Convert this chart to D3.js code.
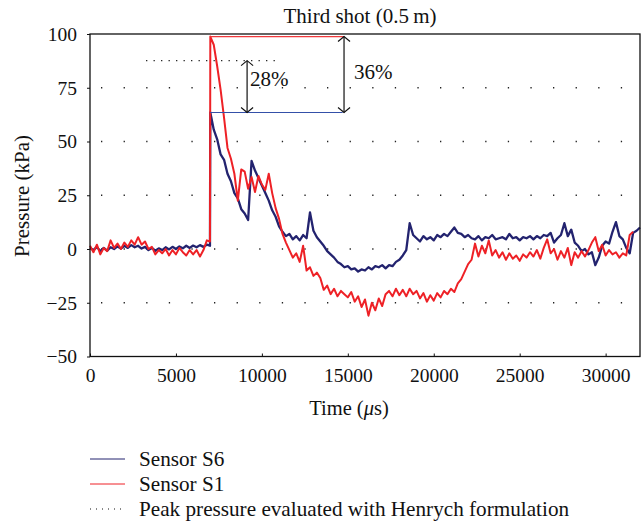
<!DOCTYPE html>
<html>
<head>
<meta charset="utf-8">
<script src="https://cdn.jsdelivr.net/npm/d3@7"></script>
<style>
  body { margin: 0; background: #fff; }
  text { font-family: "Liberation Serif", "Times New Roman", serif; fill: #111; }
</style>
</head>
<body>
<svg id="chart" width="644" height="523"></svg>
<script>
// sample times (µs), shared by both sensors
const timeUs = [
  0, 200, 400, 600, 800, 1000, 1200, 1400, 1600, 1800,
  2000, 2200, 2400, 2600, 2800, 3000, 3200, 3400, 3600, 3800,
  4000, 4200, 4400, 4600, 4800, 5000, 5200, 5400, 5600, 5800,
  6000, 6200, 6400, 6600, 6800, 6980, 7000, 7200, 7400, 7600, 7800,
  8000, 8200, 8400, 8600, 8800, 9000, 9200, 9400, 9600, 9800,
  10000, 10200, 10400, 10600, 10800, 11000, 11200, 11400, 11600, 11800,
  12000, 12200, 12400, 12600, 12800, 13000, 13200, 13400, 13600, 13800,
  14000, 14200, 14400, 14600, 14800, 15000, 15200, 15400, 15600, 15800,
  16000, 16200, 16400, 16600, 16800, 17000, 17200, 17400, 17600, 17800,
  18000, 18200, 18400, 18600, 18800, 19000, 19200, 19400, 19600, 19800,
  20000, 20200, 20400, 20600, 20800, 21000, 21200, 21400, 21600, 21800,
  22000, 22200, 22400, 22600, 22800, 23000, 23200, 23400, 23600, 23800,
  24000, 24200, 24400, 24600, 24800, 25000, 25200, 25400, 25600, 25800,
  26000, 26200, 26400, 26600, 26800, 27000, 27200, 27400, 27600, 27800,
  28000, 28200, 28400, 28600, 28800, 29000, 29200, 29400, 29600, 29800,
  30000, 30200, 30400, 30600, 30800, 31000, 31200, 31400, 31600, 31800,
  32000
];

// Sensor S6 pressure (kPa)
const sensorS6 = [
  0.5, -0.5, 1.0, -1.0, 0.5, -0.8, 0.8, 0.0, 1.2, 0.2,
  1.5, 0.5, 1.8, 0.8, 1.5, 0.2, 1.0, -0.5, 0.5, -0.8,
  0.3, -0.5, 0.8, -0.2, 1.0, 0.0, 1.2, 0.3, 1.5, 0.5,
  1.6, 0.8, 1.8, 1.0, 2.0, 1.5, 63.5, 55.5, 51.0, 44.0, 41.5,
  35.0, 31.5, 26.0, 23.5, 18.5, 16.5, 13.5, 41.0, 36.5, 33.0,
  29.5, 26.0, 22.5, 18.0, 15.0, 10.5, 8.0, 6.0, 7.0, 4.5,
  6.0, 4.0, 6.5, 5.0, 17.0, 8.5, 5.5, 3.5, 1.5, -1.0,
  -2.5, -4.0, -6.0, -7.0, -8.5, -8.0, -9.5, -9.0, -10.5, -9.5,
  -10.0, -8.5, -9.5, -8.0, -8.5, -7.5, -9.0, -7.5, -8.0, -6.0,
  -5.0, -3.0, -0.5, 12.0, 6.5, 5.0, 3.5, 6.0, 4.5, 5.5,
  4.0, 6.5, 5.5, 7.0, 6.0, 8.0, 10.0, 7.5, 7.0, 5.5,
  6.5, 5.0, 4.5, 6.0, 4.0, 5.5, 5.0, 6.5, 4.5, 5.0,
  5.5, 4.5, 7.0, 5.0, 5.5, 4.0, 5.5, 5.0, 6.0, 4.5,
  6.0, 5.0, 6.5, 6.0, 7.5, 3.0, 5.0, 6.5, 12.0, 6.0,
  9.0, 3.0, 1.5, -1.0, 0.0, -2.5, -1.5, -7.5, -4.0, 1.5,
  3.5, 2.5, 8.0, 12.5, 6.0, 4.5, 0.5, -2.0, 7.5, 8.5,
  10.0
];

// Sensor S1 pressure (kPa), no samples after 31600 µs
const sensorS1 = [
  1.5, -1.5, 2.0, -2.5, 0.5, -1.0, 4.0, 0.5, 2.5, 0.0,
  3.0, 1.0, 4.0, 2.0, 5.5, 2.0, 3.5, 0.0, 1.0, -2.5,
  -0.5, -2.0, 0.0, -3.0, -0.5, -2.5, 0.5, -1.5, -3.0, -0.5,
  -2.5, -0.5, -3.5, -0.5, 4.0, 3.5, 98.8, 95.0, 85.0, 74.0, 61.0,
  47.0, 42.0, 35.0, 22.5, 37.0, 36.0, 28.0, 33.5, 26.5, 34.0,
  30.0, 27.5, 35.0, 26.0, 19.0, 14.0, 7.0, 3.0, -0.5, -4.0,
  -2.0, -6.0, 1.5, -10.0, -8.5, -12.5, -11.0, -13.5, -19.0, -17.0,
  -21.0, -18.5, -22.0, -19.5, -21.0, -22.5, -20.0, -24.5, -22.0, -27.0,
  -23.5, -31.0, -25.0, -28.5, -23.0, -26.5, -21.0, -19.5, -22.0, -18.5,
  -21.5, -19.0, -22.0, -18.5, -21.0, -19.5, -23.0, -20.5, -24.5, -21.5,
  -24.0, -20.5, -22.5, -19.5, -21.0, -18.5, -20.0, -16.0, -14.0, -10.5,
  -7.0, -5.0, 2.5, -3.5, 1.5, -2.0, 4.0, -3.0, -0.5, -4.0,
  -1.5, -5.0, -2.0, -4.5, -3.0, -5.5, -2.5, -4.0, -1.5, -3.5,
  -0.5, -4.5, 0.5, 4.5, -2.0, 0.0, -5.0, -1.0, -4.0, 0.5,
  -7.5, -1.5, -4.0, -1.0, -3.5, -0.5, 3.0, 5.5, -1.0, 2.0,
  -3.0, -0.5, -2.5, -1.5, -4.0, -2.0, -3.0, 6.5, 8.0, null,
  null
];

const yTicks = [-50, -25, 0, 25, 50, 75, 100];
const xTicks = [0, 5000, 10000, 15000, 20000, 25000, 30000];
const gridValues = [-25, 0, 25, 50, 75];

// peak annotations: [start time, end time, kPa]
const peakS1 = [7000, 14780, 98.8];
const peakS6 = [7000, 14700, 63.5];
const henrychPeak = [3260, 11050, 87.6];
// arrows: [time, from kPa, to kPa, label]
const arrows = [
  [9140, 87.6, 63.5, "28%"],
  [14780, 98.8, 63.5, "36%"]
];

const legendItems = [
  { label: "Sensor S6", color: "#23236f", dash: null },
  { label: "Sensor S1", color: "#ee2126", dash: null },
  { label: "Peak pressure evaluated with Henrych formulation", color: "#111", dash: "1,5" }
];

const svg = d3.select("#chart");

const x = d3.scaleLinear().domain([0, 32000]).range([90, 640]);
const y = d3.scaleLinear().domain([-50, 100]).range([356.5, 34]);

// dotted grid
svg.append("g")
  .selectAll("line")
  .data(gridValues)
  .enter().append("line")
  .attr("x1", x(0) + 11)
  .attr("x2", x(32000) - 4)
  .attr("y1", d => y(d))
  .attr("y2", d => y(d))
  .attr("stroke", "#222")
  .attr("stroke-width", 1.3)
  .attr("stroke-dasharray", "1.3,21.3");

// henrych dotted line
svg.append("line")
  .attr("x1", x(henrychPeak[0]))
  .attr("x2", x(henrychPeak[1]))
  .attr("y1", y(henrychPeak[2]))
  .attr("y2", y(henrychPeak[2]))
  .attr("stroke", "#222")
  .attr("stroke-width", 1.3)
  .attr("stroke-dasharray", "1.3,6.2");

// series
const line = d3.line()
  .defined(d => d[1] !== null)
  .x(d => x(d[0]))
  .y(d => y(d[1]));

svg.append("path")
  .datum(timeUs.map((t, i) => [t, sensorS6[i]]))
  .attr("fill", "none")
  .attr("stroke", "#23236f")
  .attr("stroke-width", 2.3)
  .attr("stroke-linejoin", "round")
  .attr("d", line);

svg.append("path")
  .datum(timeUs.map((t, i) => [t, sensorS1[i]]))
  .attr("fill", "none")
  .attr("stroke", "#ee2126")
  .attr("stroke-width", 2)
  .attr("stroke-linejoin", "round")
  .attr("d", line);

// peak level lines
svg.append("line")
  .attr("x1", x(peakS1[0])).attr("x2", x(peakS1[1]))
  .attr("y1", y(peakS1[2])).attr("y2", y(peakS1[2]))
  .attr("stroke", "#f0393c").attr("stroke-width", 1.2);
svg.append("line")
  .attr("x1", x(peakS6[0])).attr("x2", x(peakS6[1]))
  .attr("y1", y(peakS6[2])).attr("y2", y(peakS6[2]))
  .attr("stroke", "#3450a8").attr("stroke-width", 1.2);

// double arrows
arrows.forEach(a => {
  const ax = x(a[0]), y1 = y(a[1]), y2 = y(a[2]);
  const g = svg.append("g").attr("stroke", "#111").attr("fill", "none").attr("stroke-width", 1.2);
  g.append("line").attr("x1", ax).attr("x2", ax).attr("y1", y1).attr("y2", y2);
  g.append("path").attr("d", `M${ax - 6},${y1 + 5}L${ax},${y1}L${ax + 6},${y1 + 5}`);
  g.append("path").attr("d", `M${ax - 6},${y2 - 5}L${ax},${y2}L${ax + 6},${y2 - 5}`);
});
svg.append("text").attr("x", x(arrows[0][0]) + 3).attr("y", 86)
  .style("font-size", "21px").text(arrows[0][3]);
svg.append("text").attr("x", x(arrows[1][0]) + 10).attr("y", 79)
  .style("font-size", "21px").text(arrows[1][3]);

// frame
svg.append("rect")
  .attr("x", x(0)).attr("y", y(100))
  .attr("width", x(32000) - x(0)).attr("height", y(-50) - y(100))
  .attr("fill", "none").attr("stroke", "#111").attr("stroke-width", 1.3);

// axes
const yAxis = svg.append("g")
  .attr("transform", `translate(${x(0)},0)`)
  .call(d3.axisLeft(y).tickValues(yTicks).tickSize(3).tickPadding(10)
    .tickFormat(d => d < 0 ? "\u2212" + Math.abs(d) : d));
yAxis.select(".domain").remove();
yAxis.selectAll("line").attr("stroke", "#111");
yAxis.selectAll("text").style("font-size", "19.5px").style("font-family", "Liberation Serif, serif");

const xAxis = svg.append("g")
  .attr("transform", `translate(0,${y(-50)})`)
  .call(d3.axisBottom(x).tickValues(xTicks).tickSize(-3).tickPadding(12).tickFormat(d3.format("d")));
xAxis.select(".domain").remove();
xAxis.selectAll("line").attr("stroke", "#111");
xAxis.selectAll("text").style("font-size", "19.5px").style("font-family", "Liberation Serif, serif");

// titles
svg.append("text")
  .attr("x", 360).attr("y", 23)
  .attr("text-anchor", "middle")
  .style("font-size", "21px")
  .text("Third shot (0.5\u2009m)");

svg.append("text")
  .attr("transform", "translate(29,196) rotate(-90)")
  .attr("text-anchor", "middle")
  .style("font-size", "21px")
  .text("Pressure (kPa)");

const xLabel = svg.append("text")
  .attr("x", 349).attr("y", 415)
  .attr("text-anchor", "middle")
  .style("font-size", "20.5px");
xLabel.append("tspan").text("Time (");
xLabel.append("tspan").style("font-style", "italic").text("\u03bc");
xLabel.append("tspan").text("s)");

// legend
const legend = svg.append("g");
const legendRowY = d3.scaleLinear().domain([0, 2]).range([459, 509]);
legendItems.forEach((d, i) => {
  legend.append("line")
    .attr("x1", 90).attr("x2", 125)
    .attr("y1", legendRowY(i)).attr("y2", legendRowY(i))
    .attr("stroke", d.color)
    .attr("stroke-width", d.dash ? 1.2 : 1)
    .attr("stroke-dasharray", d.dash);
  legend.append("text")
    .attr("x", 139).attr("y", legendRowY(i))
    .attr("dy", "0.35em")
    .style("font-size", "21.2px")
    .text(d.label);
});
</script>
</body>
</html>
